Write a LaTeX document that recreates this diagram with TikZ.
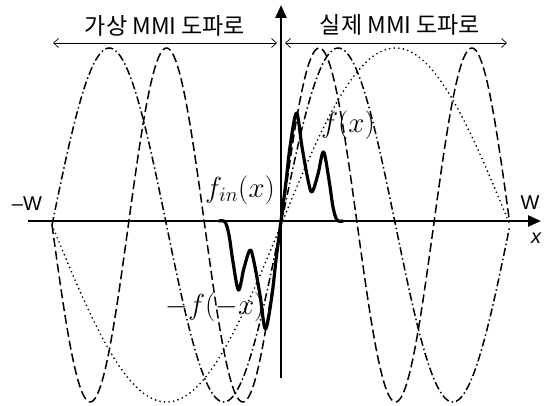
\RequirePackage{fix-cm}
\documentclass[tikz,border=0pt]{standalone}
\usepackage{fontspec}
\newfontfamily\krfont{Noto Sans CJK KR}
\newfontfamily\arialfont{Liberation Sans}
\usetikzlibrary{arrows.meta}
\begin{document}
\begin{tikzpicture}[x=1pt,y=-1pt,
  mode/.style={line width=1.5pt},
  mone/.style={line width=1.9pt, line cap=round, dash pattern=on 0pt off 4.6pt},
  mtwo/.style={mode, dash pattern=on 8pt off 3pt on 1.5pt off 3pt},
  mthree/.style={mode, dash pattern=on 9pt off 4pt},
  fcurve/.style={line width=3.2pt, line join=round, line cap=round},
  axisline/.style={line width=2.6pt, -{Triangle[length=13pt,width=11pt]}},
  spanline/.style={line width=0.7pt, {Straight Barb[length=5pt,width=9pt]}-{Straight Barb[length=5pt,width=9pt]}},
  krlab/.style={font=\krfont\fontsize{23}{26}\selectfont, inner sep=0pt},
  wlab/.style={font=\arialfont\fontsize{20}{24}\selectfont, inner sep=0pt},
  mlab/.style={font=\fontsize{29}{34}\selectfont, inner sep=0pt}
]
\useasboundingbox (0,0) rectangle (548,406);
\fill[white] (0,0) rectangle (548,406);

% mode profiles (u runs from -1 = -W to 1 = W)
\draw[mone] plot[domain=-1:1, samples=181, smooth, variable=\u] ({281+229*\u}, {225-177*sin(180*\u)});
\draw[mtwo] plot[domain=-1:1, samples=241, smooth, variable=\u] ({281+229*\u}, {225-177*sin(360*\u)});
\draw[mthree] plot[domain=-1:1, samples=301, smooth, variable=\u] ({281+229*\u}, {225-177*sin(540*\u)});

% axes
\coordinate (O) at (281,221);
\coordinate (xL) at (28,221);
\coordinate (xR) at (541,221);
\coordinate (yB) at (281,378);
\coordinate (yT) at (281,5);
\draw[axisline] (xL) -- (xR);
\draw[axisline] (yB) -- (yT);

% input field f(x) and its odd extension -f(-x)
\draw[fcurve] plot[smooth, tension=0.55] coordinates {(281,221) (286,182) (290,147) (296.5,113) (302,147) (308,180) (312,192) (318,174) (323.5,152) (329,180) (333,207) (337,220) (343,221)};
\draw[fcurve, rotate around={180:(O)}] plot[smooth, tension=0.55] coordinates {(281,221) (286,182) (290,147) (296.5,113) (302,147) (308,180) (312,192) (318,174) (323.5,152) (329,180) (333,207) (337,220) (343,221)};

% region spans
\coordinate (aL1) at (53,43);
\coordinate (aL2) at (277,43);
\coordinate (aR1) at (285,43);
\coordinate (aR2) at (507,43);
\draw[spanline] (aL1) -- (aL2);
\draw[spanline] (aR1) -- (aR2);
\node[krlab] (virt) at (165,26) {가상 MMI\ 도파로};
\node[krlab] (real) at (400,25) {실제 MMI 도파로};

% labels
\node[wlab] (mW) at (27,204) {–W};
\node[wlab] (W) at (530,203) {W};
\node[wlab, font=\arialfont\itshape\fontsize{20}{24}\selectfont] (xlab) at (536,238) {x};
\node[mlab] (fx) at (348,125) {$f(x)$};
\node[mlab] (fin) at (240,190) {$f_{in}(x)$};
\node[mlab] (fmx) at (215,307) {$-f(-x)$};
\end{tikzpicture}
\end{document}
